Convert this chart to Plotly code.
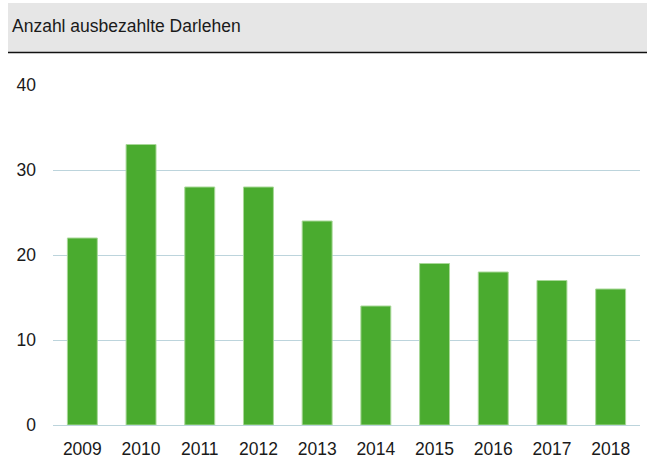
import plotly.graph_objects as go

years = ["2009", "2010", "2011", "2012", "2013", "2014", "2015", "2016", "2017", "2018"]
loans = [22, 33, 28, 28, 24, 14, 19, 18, 17, 16]
y_ticks = [0, 10, 20, 30, 40]
title_text = "Anzahl ausbezahlte Darlehen"

W, H = 647, 462
L, R, T, B = 53, 7, 85, 37
pw, ph = W - L - R, H - T - B

def px_x(x):
    return (x - L) / pw

def px_y(y):
    return (H - B - y) / ph

fig = go.Figure(go.Bar(
    x=years, y=loans,
    marker=dict(color="#4aab2f", line=dict(color="#a8d898", width=1)),
    hoverinfo="x+y",
))

fig.update_layout(
    width=W, height=H,
    margin=dict(l=L, r=R, t=T, b=B, autoexpand=False),
    paper_bgcolor="white", plot_bgcolor="white",
    bargap=0.49,
    showlegend=False,
    font=dict(family="Liberation Sans, Arial, sans-serif", size=17.5, color="#1a1a1a"),
    xaxis=dict(type="category", showgrid=False, showline=False, zeroline=False,
               automargin=False, ticks="", tickfont=dict(size=17.5), ticklabelstandoff=11),
    yaxis=dict(range=[0, 40], tickvals=y_ticks, showgrid=True, gridcolor="#bcd4dc",
               gridwidth=1, zeroline=True, zerolinecolor="#bcd4dc", zerolinewidth=1,
               automargin=False, showline=False, ticks="", tickfont=dict(size=17.5),
               ticklabelstandoff=16),
    shapes=[
        dict(type="rect", xref="paper", yref="paper",
             x0=px_x(8), x1=px_x(W + 2), y0=px_y(52), y1=px_y(3),
             fillcolor="#e6e6e6", line=dict(width=0), layer="below"),
        dict(type="line", xref="paper", yref="paper",
             x0=px_x(8), x1=px_x(W + 2), y0=px_y(52.5), y1=px_y(52.5),
             line=dict(color="#111111", width=1.5)),
    ],
    annotations=[
        dict(text=title_text, xref="paper", yref="paper",
             x=px_x(10), y=px_y(26), xanchor="left", yanchor="middle",
             showarrow=False, font=dict(size=17.5, color="#1a1a1a")),
    ],
)

fig.write_html(
    "out.html",
    config={"displayModeBar": False},
    post_script="document.body.style.margin='0';document.body.style.overflow='hidden';",
)
